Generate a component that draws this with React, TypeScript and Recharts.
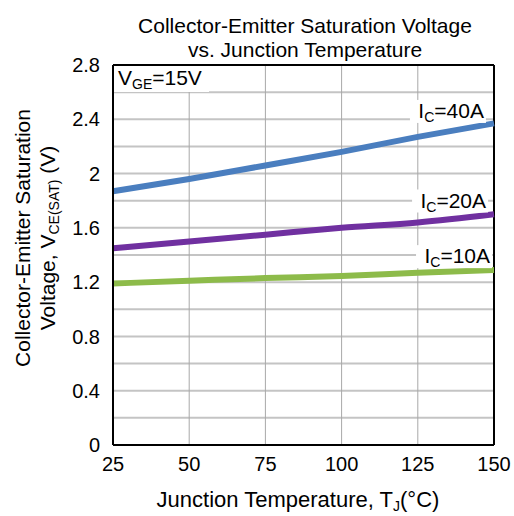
import React from 'react';
import {
  LineChart,
  Line,
  XAxis,
  YAxis,
  ReferenceLine,
  ReferenceDot,
} from 'recharts';

// junction temperature (°C)
const temps = [25, 50, 75, 100, 125, 150];
// V_CE(SAT)
const vce40A = [1.87, 1.96, 2.06, 2.16, 2.27, 2.37];
const vce20A = [1.45, 1.5, 1.55, 1.6, 1.64, 1.7];
const vce10A = [1.19, 1.21, 1.23, 1.245, 1.27, 1.29];

const xTicks = [25, 50, 75, 100, 125, 150];
const yTicks = [0, 0.4, 0.8, 1.2, 1.6, 2, 2.4, 2.8];
const yMinorGrid = [0.2, 0.4, 0.6, 0.8, 1, 1.2, 1.4, 1.6, 1.8, 2, 2.2, 2.4, 2.6];
const xGrid = [50, 75, 100, 125];

// curve labels, anchored at the right end of the text baseline
const curveLabels = [
  { amps: '40A', t: 146.7, v: 2.41 },
  { amps: '20A', t: 147.4, v: 1.75 },
  { amps: '10A', t: 148.7, v: 1.34 },
];

const data = temps.map((t, i) => ({
  t,
  a40: vce40A[i],
  a20: vce20A[i],
  a10: vce10A[i],
}));

const FONT = '"Liberation Sans", Arial, sans-serif';
const FS = 21;
const TICK_FS = 20;
const SUB = 14;

const CurveLabel = ({ viewBox, amps }: any) => {
  const x = viewBox.x;
  const y = viewBox.y;
  return (
    <g>
      <rect x={x - 74} y={y - 18} width={76} height={23} fill="#fff" />
      <text x={x} y={y} textAnchor="end" fontSize={FS} fontFamily={FONT} fill="#000">
        <tspan>I</tspan>
        <tspan fontSize={SUB} dy={4}>C</tspan>
        <tspan dy={-4}>={amps}</tspan>
      </text>
    </g>
  );
};

const VgeLabel = ({ viewBox }: any) => {
  const x = viewBox.x;
  const y = viewBox.y;
  return (
    <g>
      <rect x={x + 1} y={y + 1} width={95} height={26} fill="#fff" />
      <text x={x + 5} y={y + 20} fontSize={FS} fontFamily={FONT} fill="#000">
        <tspan>V</tspan>
        <tspan fontSize={SUB} dy={4}>GE</tspan>
        <tspan dy={-4}>=15V</tspan>
      </text>
    </g>
  );
};

export default function App() {
  return (
    <div style={{ position: 'absolute', left: 0, top: 0, width: 514, height: 516, background: '#fff' }}>
      <LineChart
        width={514}
        height={516}
        data={data}
        margin={{ top: 65, right: 20, bottom: 41, left: 53 }}
      >
        {yMinorGrid.map((v) => (
          <ReferenceLine key={'h' + v} y={v} stroke="#c4c4c4" strokeWidth={2} />
        ))}
        {xGrid.map((v) => (
          <ReferenceLine key={'v' + v} x={v} stroke="#a8a8a8" strokeWidth={1} />
        ))}
        <XAxis
          dataKey="t"
          type="number"
          domain={[25, 150]}
          ticks={xTicks}
          axisLine={{ stroke: '#000', strokeWidth: 2 }}
          tickLine={false}
          tick={{ fill: '#000', fontSize: TICK_FS, fontFamily: FONT }}
          tickMargin={6}
          height={30}
        />
        <YAxis
          type="number"
          domain={[0, 2.8]}
          ticks={yTicks}
          axisLine={{ stroke: '#000', strokeWidth: 2 }}
          tickLine={false}
          tick={{ fill: '#000', fontSize: TICK_FS, fontFamily: FONT }}
          tickMargin={7}
          width={60}
        />
        <ReferenceLine y={2.8} stroke="#000" strokeWidth={2} />
        <ReferenceLine x={150} stroke="#000" strokeWidth={2} />
        <Line dataKey="a40" type="monotone" stroke="#4a7ebf" strokeWidth={6} dot={false} isAnimationActive={false} />
        <Line dataKey="a20" type="monotone" stroke="#7030a0" strokeWidth={6} dot={false} isAnimationActive={false} />
        <Line dataKey="a10" type="monotone" stroke="#8dbb4a" strokeWidth={6} dot={false} isAnimationActive={false} />
        {curveLabels.map((c) => (
          <ReferenceDot
            key={c.amps}
            x={c.t}
            y={c.v}
            r={0}
            fill="none"
            stroke="none"
            label={(p: any) => <CurveLabel {...p} amps={c.amps} />}
          />
        ))}
        <ReferenceDot
          x={25}
          y={2.8}
          r={0}
          fill="none"
          stroke="none"
          label={(p: any) => <VgeLabel {...p} />}
        />
      </LineChart>
      <svg
        width={514}
        height={516}
        style={{ position: 'absolute', left: 0, top: 0, pointerEvents: 'none' }}
        fontFamily={FONT}
      >
        <text x={305} y={33} textAnchor="middle" fontSize={FS} fill="#000">
          Collector-Emitter Saturation Voltage
        </text>
        <text x={305} y={57} textAnchor="middle" fontSize={FS} fill="#000">
          vs. Junction Temperature
        </text>
        <text x={298} y={507} textAnchor="middle" fontSize={22} fill="#000">
          Junction Temperature, T<tspan fontSize={SUB} dy={4}>J</tspan>
          <tspan dy={-4}>(°C)</tspan>
        </text>
        <g transform="translate(30,238) rotate(-90)">
          <text x={0} y={0} textAnchor="middle" fontSize={FS} fill="#000">
            Collector-Emitter Saturation
          </text>
        </g>
        <g transform="translate(55,238) rotate(-90)">
          <text x={0} y={0} textAnchor="middle" fontSize={FS} fill="#000">
            Voltage, V<tspan fontSize={SUB} dy={4}>CE(SAT)</tspan>
            <tspan dy={-4}> (V)</tspan>
          </text>
        </g>
      </svg>
    </div>
  );
}
